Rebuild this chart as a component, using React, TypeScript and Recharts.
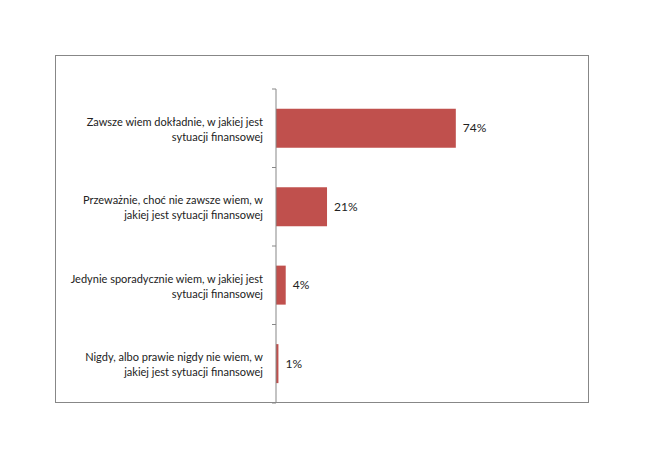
import React from 'react';
import { BarChart, Bar, XAxis, YAxis, LabelList } from 'recharts';

const categories = [
  'Zawsze wiem dokładnie, w jakiej jest sytuacji finansowej',
  'Przeważnie, choć nie zawsze wiem, w jakiej jest sytuacji finansowej',
  'Jedynie sporadycznie wiem, w jakiej jest sytuacji finansowej',
  'Nigdy, albo prawie nigdy nie wiem, w jakiej jest sytuacji finansowej',
];
const tickLines = [
  ['Zawsze wiem dokładnie, w jakiej jest', 'sytuacji finansowej'],
  ['Przeważnie, choć nie zawsze wiem, w', 'jakiej jest sytuacji finansowej'],
  ['Jedynie sporadycznie wiem, w jakiej jest', 'sytuacji finansowej'],
  ['Nigdy, albo prawie nigdy nie wiem, w', 'jakiej jest sytuacji finansowej'],
];
const values = [74, 21, 4, 1];

const data = categories.map((name, i) => ({ name, value: values[i] }));

const FONT = 'Lato, "Open Sans", sans-serif';
const TEXT = '#222';
const AXIS = '#878787';
const TICK_MARGIN = 13;

const CategoryTick = (props: any) => {
  const { x, y, payload, index } = props;
  const idx = payload?.index ?? index;
  const lines = tickLines[idx] || [String(payload.value), ''];
  const axisX = x + TICK_MARGIN;
  const off = payload && typeof payload.offset === 'number' ? payload.offset : 0;
  return (
    <g>
      <line x1={axisX - 4} x2={axisX} y1={y - off} y2={y - off} stroke={AXIS} />
      {idx === categories.length - 1 && (
        <line x1={axisX - 4} x2={axisX} y1={y + off} y2={y + off} stroke={AXIS} />
      )}
      <text x={x} y={y} textAnchor="end" fontFamily={FONT} fontSize={11} fill={TEXT}>
        <tspan x={x} y={y - 7} dominantBaseline="central">{lines[0]}</tspan>
        <tspan x={x} y={y + 8} dominantBaseline="central">{lines[1]}</tspan>
      </text>
    </g>
  );
};

export default function App() {
  return (
    <div style={{ position: 'absolute', left: 0, top: 0, width: 645, height: 460, background: '#fff' }}>
      <div
        style={{
          position: 'absolute',
          left: 55,
          top: 55,
          width: 534,
          height: 348,
          border: `1px solid ${AXIS}`,
          boxSizing: 'border-box',
        }}
      />
      <div style={{ position: 'absolute', left: 0, top: 0 }}>
        <BarChart
          width={645}
          height={460}
          data={data}
          layout="vertical"
          margin={{ top: 89, bottom: 57, left: 0, right: 126 }}
          barCategoryGap="25%"
        >
          <XAxis type="number" dataKey="value" domain={[0, 100]} hide />
          <YAxis
            type="category"
            dataKey="name"
            width={276}
            axisLine={{ stroke: AXIS }}
            tickLine={false}
            tickSize={0}
            tickMargin={TICK_MARGIN}
            tick={<CategoryTick />}
            interval={0}
          />
          <Bar dataKey="value" fill="#C0504D" isAnimationActive={false}>
            <LabelList
              dataKey="value"
              position="right"
              offset={7}
              formatter={(v: any) => `${v}%`}
              fill={TEXT}
              fontFamily={FONT}
              fontSize={12}
            />
          </Bar>
        </BarChart>
      </div>
    </div>
  );
}
